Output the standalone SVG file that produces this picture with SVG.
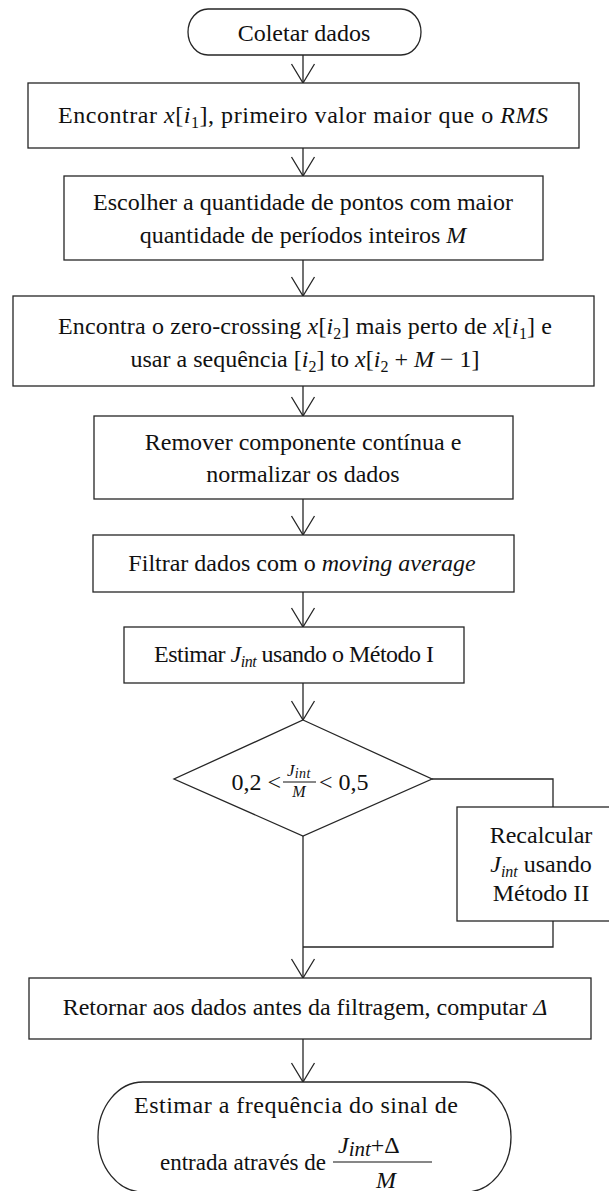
<svg xmlns="http://www.w3.org/2000/svg" width="609" height="1191" viewBox="0 0 609 1191">
  <style>
    .shape { fill: #ffffff; stroke: #262626; stroke-width: 1.3; }
    .wire { fill: none; stroke: #262626; stroke-width: 1.3; }
    .t { font-family: "Liberation Serif", "Times New Roman", serif; font-size: 24px; fill: #111111; }
    .c { text-anchor: middle; }
    .m { font-style: italic; }
    .sub { font-size: 16px; font-style: normal; }
    .subi { font-size: 16px; font-style: italic; }
  </style>
  <defs>
    <marker id="vee" viewBox="-21 -13 23 26" refX="0" refY="0" markerWidth="23" markerHeight="26" markerUnits="userSpaceOnUse" orient="auto">
      <path d="M-19,-11.5 L0,0 L-19,11.5" fill="none" stroke="#262626" stroke-width="1.3"/>
    </marker>
  </defs>

  <rect width="609" height="1191" fill="#ffffff"/>

  <!-- connectors -->
  <g id="connectors">
    <line class="wire" x1="303" y1="55" x2="303" y2="83" marker-end="url(#vee)"/>
    <line class="wire" x1="303" y1="148" x2="303" y2="176" marker-end="url(#vee)"/>
    <line class="wire" x1="303" y1="260" x2="303" y2="296" marker-end="url(#vee)"/>
    <line class="wire" x1="303" y1="386" x2="303" y2="416" marker-end="url(#vee)"/>
    <line class="wire" x1="303" y1="499" x2="303" y2="535" marker-end="url(#vee)"/>
    <line class="wire" x1="303" y1="592" x2="303" y2="627" marker-end="url(#vee)"/>
    <line class="wire" x1="303" y1="683" x2="303" y2="720" marker-end="url(#vee)"/>
    <polyline class="wire" points="432,779 553,779 553,807"/>
    <polyline class="wire" points="553,921 553,947 303,947"/>
    <line class="wire" x1="303" y1="836" x2="303" y2="978" marker-end="url(#vee)"/>
    <line class="wire" x1="303" y1="1039" x2="303" y2="1082" marker-end="url(#vee)"/>
  </g>

  <!-- start -->
  <g id="start">
    <rect class="shape" x="188" y="9" width="233" height="46" rx="20" ry="23"/>
    <text class="t c" x="304" y="41">Coletar dados</text>
  </g>

  <!-- step 1 -->
  <g id="find-rms">
    <rect class="shape" x="28" y="83" width="551" height="65"/>
    <text class="t c" x="303" y="123" textLength="490">Encontrar <tspan class="m">x</tspan>[<tspan class="m">i</tspan><tspan class="sub" dy="5">1</tspan><tspan dy="-5">], primeiro valor maior que o </tspan><tspan class="m">RMS</tspan></text>
  </g>

  <!-- step 2 -->
  <g id="choose-points">
    <rect class="shape" x="64" y="176" width="479" height="84"/>
    <text class="t c" x="303" y="210">Escolher a quantidade de pontos com maior</text>
    <text class="t c" x="303" y="243">quantidade de períodos inteiros <tspan class="m">M</tspan></text>
  </g>

  <!-- step 3 -->
  <g id="zero-crossing">
    <rect class="shape" x="13" y="296" width="581" height="90"/>
    <text class="t c" x="305" y="334" textLength="494">Encontra o zero-crossing <tspan class="m">x</tspan>[<tspan class="m">i</tspan><tspan class="sub" dy="5">2</tspan><tspan dy="-5">] mais perto de </tspan><tspan class="m">x</tspan>[<tspan class="m">i</tspan><tspan class="sub" dy="5">1</tspan><tspan dy="-5">] e</tspan></text>
    <text class="t c" x="305" y="367">usar a sequência [<tspan class="m">i</tspan><tspan class="sub" dy="5">2</tspan><tspan dy="-5">] to </tspan><tspan class="m">x</tspan>[<tspan class="m">i</tspan><tspan class="sub" dy="5">2</tspan><tspan dy="-5"> + </tspan><tspan class="m">M</tspan> − 1]</text>
  </g>

  <!-- step 4 -->
  <g id="remove-dc">
    <rect class="shape" x="94" y="416" width="419" height="83"/>
    <text class="t c" x="303" y="450">Remover componente contínua e</text>
    <text class="t c" x="303" y="482">normalizar os dados</text>
  </g>

  <!-- step 5 -->
  <g id="filter">
    <rect class="shape" x="93" y="535" width="421" height="57"/>
    <text class="t c" x="302" y="571">Filtrar dados com o <tspan class="m">moving average</tspan></text>
  </g>

  <!-- step 6 -->
  <g id="method-1">
    <rect class="shape" x="124" y="627" width="340" height="56"/>
    <text class="t c" x="294" y="662" textLength="280">Estimar <tspan class="m">J</tspan><tspan class="subi" dy="5">int</tspan><tspan dy="-5"> usando o Método I</tspan></text>
  </g>

  <!-- decision -->
  <g id="decision">
    <polygon class="shape" points="303,720 432,779 303,836 174,779"/>
    <text class="t" x="281" y="790" text-anchor="end">0,2 &lt;</text>
    <text class="t c" x="299" y="776" style="font-size:17px"><tspan class="m">J</tspan><tspan class="m" style="font-size:14px;letter-spacing:0.5px" dy="2">int</tspan></text>
    <line x1="283" y1="782" x2="316" y2="782" stroke="#111111" stroke-width="1"/>
    <text class="t c m" x="299" y="797" style="font-size:16px">M</text>
    <text class="t" x="319" y="790">&lt; 0,5</text>
  </g>

  <!-- method II -->
  <g id="method-2">
    <rect class="shape" x="457" y="807" width="168" height="114"/>
    <text class="t c" x="541" y="843">Recalcular</text>
    <text class="t c" x="541" y="872"><tspan class="m">J</tspan><tspan class="subi" dy="5">int</tspan><tspan dy="-5"> usando</tspan></text>
    <text class="t c" x="541" y="901">Método II</text>
  </g>

  <!-- step 7 -->
  <g id="delta">
    <rect class="shape" x="29" y="978" width="562" height="61"/>
    <text class="t c" x="305" y="1015">Retornar aos dados antes da filtragem, computar <tspan class="m">Δ</tspan></text>
  </g>

  <!-- end -->
  <g id="end">
    <rect class="shape" x="98" y="1082" width="413" height="110" rx="45" ry="55"/>
    <text class="t c" x="296" y="1113" textLength="324">Estimar a frequência do sinal de</text>
    <text class="t" x="160" y="1170" style="font-size:23px">entrada através de</text>
    <text class="t" x="338" y="1153"><tspan class="m">J</tspan><tspan class="m" style="font-size:21px" dy="3">int</tspan><tspan dy="-3">+Δ</tspan></text>
    <line x1="333" y1="1162" x2="432" y2="1162" stroke="#111111" stroke-width="1.2"/>
    <text class="t c m" x="386" y="1188">M</text>
  </g>
</svg>
